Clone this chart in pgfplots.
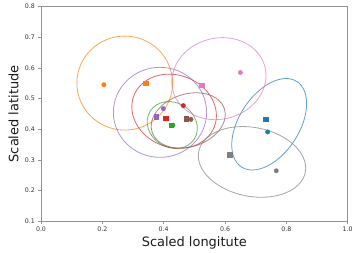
\documentclass[border=0pt]{standalone}
\usepackage{pgfplots}
\pgfplotsset{compat=1.18}
\usepackage{fontspec}
\setmainfont{DejaVu Sans}
\definecolor{tb}{HTML}{1F77B4}
\definecolor{to}{HTML}{FF7F0E}
\definecolor{tg}{HTML}{2CA02C}
\definecolor{tr}{HTML}{D62728}
\definecolor{tp}{HTML}{9467BD}
\definecolor{tbr}{HTML}{8C564B}
\definecolor{tpk}{HTML}{E377C2}
\definecolor{tgr}{HTML}{7F7F7F}
\begin{document}
\begin{tikzpicture}
\useasboundingbox (-41bp,-32bp) rectangle (311bp,221bp);
\begin{axis}[
  scale only axis,
  width=306.7bp, height=214.3bp,
  xmin=0, xmax=1, ymin=0.1, ymax=0.8,
  xtick={0,0.2,0.4,0.6,0.8,1.0},
  xticklabels={0.0,0.2,0.4,0.6,0.8,1.0},
  ytick={0.1,0.2,0.3,0.4,0.5,0.6,0.7,0.8},
  yticklabels={0.1,0.2,0.3,0.4,0.5,0.6,0.7,0.8},
  tick pos=left,
  tick align=outside,
  major tick length=2.5bp,
  axis line style={gray!85, line width=0.6bp},
  every tick/.style={gray!85, line width=0.5bp},
  tick label style={font=\fontsize{6.3}{7}\selectfont, text=black!80},
  /pgf/number format/assume math mode=true,
  xlabel={Scaled longitute},
  ylabel={Scaled latitude},
  label style={font=\fontsize{13}{15}\selectfont, text=black!90},
  xlabel style={at={(axis description cs:0.5,-0.1199)}, anchor=base},
  ylabel style={at={(axis description cs:-0.074,0.5)}, anchor=base},
  clip=false,
]
% ellipses: centre, semi-axes, rotation
\draw[tb, opacity=0.7, line width=0.8bp] (axis cs:0.744,0.416) ellipse [x radius=0.166, y radius=0.098, rotate=57];
\draw[to, opacity=0.7, line width=0.8bp] (axis cs:0.273,0.5505) ellipse [x radius=0.156, y radius=0.1535];
\draw[tg, opacity=0.7, line width=0.8bp] (axis cs:0.428,0.4135) ellipse [x radius=0.085, y radius=0.073, rotate=-32];
\draw[tr, opacity=0.7, line width=0.8bp] (axis cs:0.434,0.4585) ellipse [x radius=0.1406, y radius=0.118, rotate=-21];
\draw[tp, opacity=0.7, line width=0.8bp] (axis cs:0.388,0.455) ellipse [x radius=0.152, y radius=0.147];
\draw[tbr, opacity=0.7, line width=0.8bp] (axis cs:0.480,0.4285) ellipse [x radius=0.124, y radius=0.086, rotate=18];
\draw[tpk, opacity=0.7, line width=0.8bp] (axis cs:0.580,0.565) ellipse [x radius=0.155, y radius=0.1325, rotate=14.5];
\draw[tgr, opacity=0.7, line width=0.8bp] (axis cs:0.688,0.293) ellipse [x radius=0.177, y radius=0.1125, rotate=-11];
% points
\addplot[only marks, mark=*, mark size=2.2bp, color=tb] coordinates {(0.739,0.391)};
\addplot[only marks, mark=square*, mark size=2.2bp, color=tb] coordinates {(0.733,0.432)};
\addplot[only marks, mark=*, mark size=2.2bp, color=to] coordinates {(0.205,0.545)};
\addplot[only marks, mark=square*, mark size=2.2bp, color=to] coordinates {(0.341,0.550)};
\addplot[only marks, mark=*, mark size=2.2bp, color=tg] coordinates {(0.430,0.413)};
\addplot[only marks, mark=square*, mark size=2.2bp, color=tg] coordinates {(0.424,0.413)};
\addplot[only marks, mark=*, mark size=2.2bp, color=tr] coordinates {(0.464,0.477)};
\addplot[only marks, mark=square*, mark size=2.2bp, color=tr] coordinates {(0.407,0.436)};
\addplot[only marks, mark=*, mark size=2.2bp, color=tp] coordinates {(0.399,0.467)};
\addplot[only marks, mark=square*, mark size=2.2bp, color=tp] coordinates {(0.375,0.441)};
\addplot[only marks, mark=*, mark size=2.2bp, color=tbr] coordinates {(0.489,0.432)};
\addplot[only marks, mark=square*, mark size=2.2bp, color=tbr] coordinates {(0.473,0.434)};
\addplot[only marks, mark=*, mark size=2.2bp, color=tpk] coordinates {(0.650,0.585)};
\addplot[only marks, mark=square*, mark size=2.2bp, color=tpk] coordinates {(0.524,0.543)};
\addplot[only marks, mark=*, mark size=2.2bp, color=tgr] coordinates {(0.767,0.264)};
\addplot[only marks, mark=square*, mark size=2.2bp, color=tgr] coordinates {(0.615,0.316)};
\end{axis}
\end{tikzpicture}
\end{document}
